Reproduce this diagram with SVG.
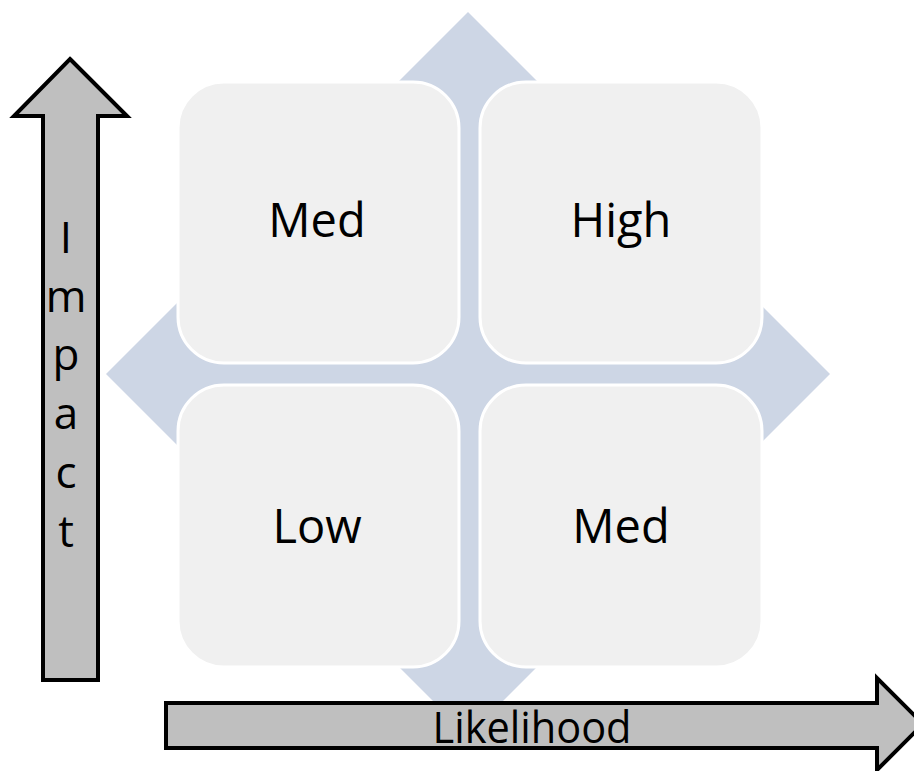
<svg xmlns="http://www.w3.org/2000/svg" width="914" height="771" viewBox="0 0 914 771">
<style>
.bg{fill:#ffffff}
.diamond{fill:#cdd6e5}
.box{fill:#f0f0f0;stroke:#ffffff;stroke-width:3}
.lbl{font-family:"Open Sans","Liberation Sans",sans-serif;font-size:47px;fill:#000000;text-anchor:middle}
.arrow{fill:#bfbfbf;stroke:#000000;stroke-width:4;stroke-linejoin:miter}
.axis{font-family:"Open Sans","Liberation Sans",sans-serif;font-size:44px;fill:#000000;text-anchor:middle}
</style>
<rect class="bg" x="0" y="0" width="914" height="771"/>
<g id="background">
<polygon class="diamond" points="468,12 830,374 468,736 106,374"/>
</g>
<g id="q-med-top">
<rect class="box" x="178" y="82" width="281" height="281" rx="46" ry="46"/>
<text class="lbl" x="317" y="237">Med</text>
</g>
<g id="q-high">
<rect class="box" x="480" y="82" width="282" height="281" rx="46" ry="46"/>
<text class="lbl" x="621" y="237">High</text>
</g>
<g id="q-low">
<rect class="box" x="178" y="385" width="281" height="282" rx="46" ry="46"/>
<text class="lbl" x="317" y="543">Low</text>
</g>
<g id="q-med-bottom">
<rect class="box" x="480" y="385" width="282" height="282" rx="46" ry="46"/>
<text class="lbl" x="621" y="543">Med</text>
</g>
<g id="connectors">
<g id="impact-axis">
<polygon class="arrow" points="70,59 127,116 98,116 98,680 43,680 43,116 14,116"/>
<text class="axis" x="66" y="253">I</text>
<text class="axis" x="66" y="312">m</text>
<text class="axis" x="66" y="370">p</text>
<text class="axis" x="66" y="429">a</text>
<text class="axis" x="66" y="488">c</text>
<text class="axis" x="66" y="547">t</text>
</g>
<g id="likelihood-axis">
<polygon class="arrow" points="166,703 877,703 877,678 923,724 877,770 877,748 166,748"/>
<text class="axis" x="532" y="743" textLength="199" lengthAdjust="spacingAndGlyphs">Likelihood</text>
</g>
</g>
</svg>
